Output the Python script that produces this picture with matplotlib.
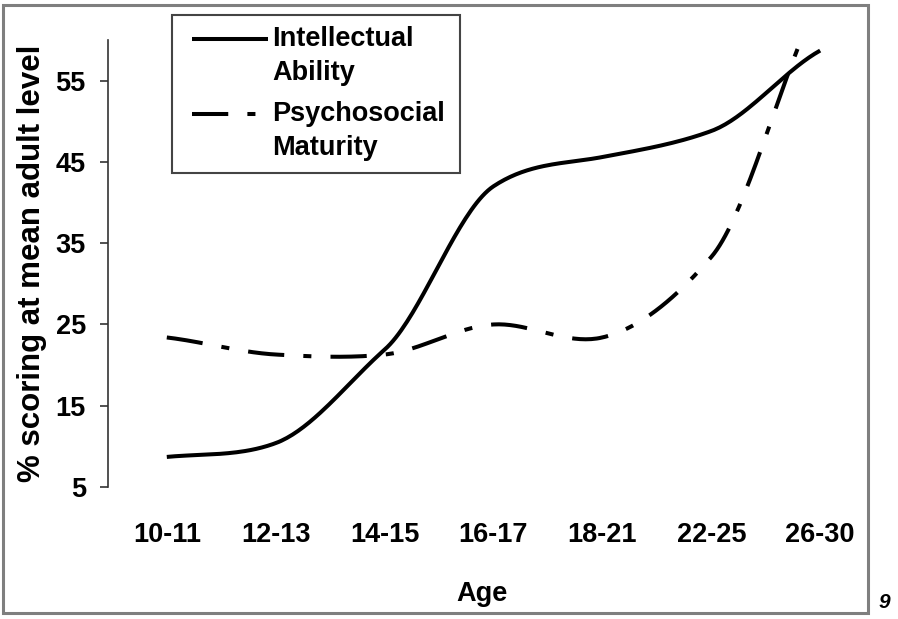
import matplotlib
matplotlib.use('Agg')
import matplotlib.pyplot as plt
import numpy as np
from matplotlib.patches import Rectangle
from matplotlib.lines import Line2D

plt.rcParams['font.family'] = ['Liberation Sans', 'DejaVu Sans']
plt.rcParams['font.weight'] = 'bold'

# ================= data =======================
ages = ['10-11', '12-13', '14-15', '16-17', '18-21', '22-25', '26-30']
intellectual = [8.7, 10.4, 21.9, 42.0, 45.6, 48.8, 58.7]
psychosocial = [23.4, 21.3, 21.3, 25.0, 23.4, 33.3, 65.0]
y_ticks = [5, 15, 25, 35, 45, 55]
labels = ['Intellectual\nAbility', 'Psychosocial\nMaturity']

W, H = 898, 619


def fx(px):
    return px / W


def fy(py):
    return 1 - py / H


def smooth(xs, ys, n=40, tension=0.75):
    # Catmull-Rom style smoothing through the points (like Excel's smoothed line)
    xs = np.asarray(xs, float)
    ys = np.asarray(ys, float)
    m = np.zeros_like(ys)
    m[1:-1] = (ys[2:] - ys[:-2]) / 2
    m[0] = ys[1] - ys[0]
    m[-1] = ys[-1] - ys[-2]
    m *= tension
    out_x, out_y = [], []
    t = np.linspace(0, 1, n)
    h00 = 2 * t**3 - 3 * t**2 + 1
    h10 = t**3 - 2 * t**2 + t
    h01 = -2 * t**3 + 3 * t**2
    h11 = t**3 - t**2
    for i in range(len(xs) - 1):
        out_x.append(xs[i] + t * (xs[i + 1] - xs[i]))
        out_y.append(h00 * ys[i] + h10 * m[i] + h01 * ys[i + 1] + h11 * m[i + 1])
    return np.concatenate(out_x), np.concatenate(out_y)


fig = plt.figure(figsize=(W / 100, H / 100), dpi=100)
ax = fig.add_axes([fx(108), fy(487), fx(855 - 108), (487 - 40) / H])

x = np.arange(len(ages))
sx, sy = smooth(x, intellectual)
ax.plot(sx, sy, color='black', lw=2.9, solid_capstyle='butt')
sx, sy = smooth(x, psychosocial)
ax.plot(sx, sy, color='black', lw=2.9, dashes=(9, 4.75, 2, 4.75))

ax.set_xlim(-0.54, 6.32)
ax.set_ylim(5, 60)
ax.set_yticks(y_ticks)
ax.set_xticks(x)
ax.set_xticklabels(ages)
for s in ['top', 'right', 'bottom']:
    ax.spines[s].set_visible(False)
ax.spines['left'].set_linewidth(1.2)
ax.spines['left'].set_color('#333333')
ax.tick_params(axis='y', length=6, width=1.2, color='#333333', pad=10, labelsize=19.5)
ax.tick_params(axis='x', length=0, pad=25, labelsize=19.5)
ax.set_xlabel('Age', fontsize=19.5, fontweight='bold', labelpad=24)
ax.set_ylabel('% scoring at mean adult level', fontsize=22.5, fontweight='bold', labelpad=6)

# legend box (drawn by hand, handles aligned with the first text line)
fig.add_artist(Rectangle((fx(172), fy(173)), fx(460 - 172), (173 - 15) / H,
                         fill=False, ec='#444444', lw=1.5, transform=fig.transFigure))
fig.add_artist(Line2D([fx(192), fx(268)], [fy(39), fy(39)], color='black', lw=2.9,
                      solid_capstyle='butt', transform=fig.transFigure))
fig.add_artist(Line2D([fx(192), fx(262)], [fy(114), fy(114)], color='black', lw=2.9,
                      dashes=(9, 4.75, 2, 4.75), transform=fig.transFigure))
fig.text(fx(272), fy(26), labels[0], fontsize=19.5, fontweight='bold', va='top',
         linespacing=1.42)
fig.text(fx(272), fy(101), labels[1], fontsize=19.5, fontweight='bold', va='top',
         linespacing=1.42)

# outer frame and page number
fig.add_artist(Rectangle((fx(3), fy(613)), fx(868 - 3), (613 - 5) / H,
                         fill=False, ec='#7f7f7f', lw=2.2, transform=fig.transFigure))
fig.text(fx(879), fy(603), '9', fontsize=15, fontweight='bold', style='italic', va='center')

fig.savefig('out.png', dpi=100)
